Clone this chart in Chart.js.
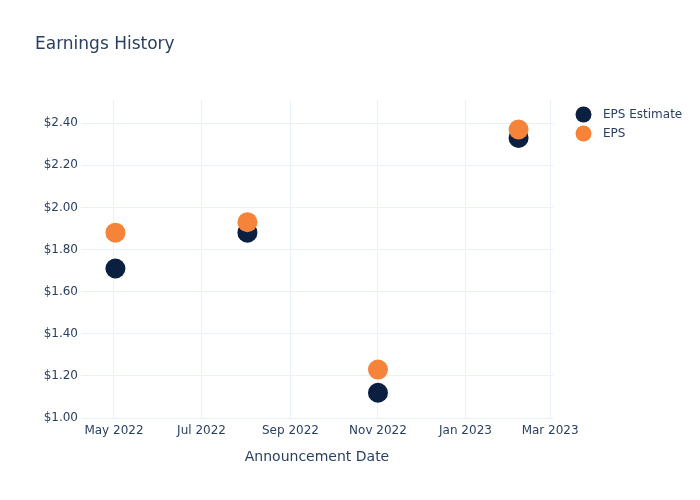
<!DOCTYPE html>
<html><head><meta charset="utf-8">
<script src="https://cdn.jsdelivr.net/npm/chart.js@4/dist/chart.umd.min.js"></script>
<style>html,body{margin:0;padding:0;background:#fff}#wrap{width:700px;height:500px}</style>
</head><body><div id="wrap"><canvas id="c" width="700" height="500"></canvas></div>
<script>
const announcementDates = ['2022-05-02', '2022-08-02', '2022-11-01', '2023-02-07'];
const epsEstimate = [1.71, 1.88, 1.12, 2.33];
const epsActual = [1.88, 1.93, 1.23, 2.37];
const seriesNames = ['EPS Estimate', 'EPS'];
const xTickDates = ['2022-05-01', '2022-07-01', '2022-09-01', '2022-11-01', '2023-01-01', '2023-03-01'];
const xTickLabels = ['May 2022', 'Jul 2022', 'Sep 2022', 'Nov 2022', 'Jan 2023', 'Mar 2023'];
const yTickValues = [1.0, 1.2, 1.4, 1.6, 1.8, 2.0, 2.2, 2.4];
const yTickLabels = ['$1.00', '$1.20', '$1.40', '$1.60', '$1.80', '$2.00', '$2.20', '$2.40'];

const ts = d => Date.parse(d + 'T00:00:00Z');
const FONT = '"DejaVu Sans", Verdana, sans-serif';
const TXT = '#2a3f5f';
const GRID = '#ebf0f8';
const NAVY = '#0b1f40';
const ORANGE = '#f6833a';

const overlay = {
  id: 'overlay',
  afterDraw(chart) {
    const ctx = chart.ctx;
    const a = chart.chartArea;
    ctx.save();
    ctx.fillStyle = TXT;
    ctx.textBaseline = 'middle';
    ctx.textAlign = 'left';
    ctx.font = '17px ' + FONT;
    ctx.fillText('Earnings History', 35, 45);
    ctx.font = '14px ' + FONT;
    ctx.textAlign = 'center';
    ctx.fillText('Announcement Date', (a.left + a.right) / 2, 457);
    const cols = [NAVY, ORANGE];
    ctx.font = '12px ' + FONT;
    ctx.textAlign = 'left';
    seriesNames.forEach((n, i) => {
      const y = 114.5 + i * 19;
      ctx.beginPath();
      ctx.arc(583.5, y, 8, 0, Math.PI * 2);
      ctx.fillStyle = cols[i];
      ctx.fill();
      ctx.fillStyle = TXT;
      ctx.fillText(n, 603, y);
    });
    ctx.restore();
  }
};

new Chart(document.getElementById('c'), {
  type: 'scatter',
  data: {
    datasets: [
      { label: seriesNames[0], data: announcementDates.map((d, i) => ({ x: ts(d), y: epsEstimate[i] })),
        backgroundColor: NAVY, borderWidth: 0, pointRadius: 10, pointHoverRadius: 10, order: 2 },
      { label: seriesNames[1], data: announcementDates.map((d, i) => ({ x: ts(d), y: epsActual[i] })),
        backgroundColor: ORANGE, borderWidth: 0, pointRadius: 10, pointHoverRadius: 10, order: 1 }
    ]
  },
  options: {
    responsive: false,
    animation: false,
    devicePixelRatio: 1,
    layout: { padding: { top: 100, right: 147, left: 0, bottom: 0 } },
    plugins: { legend: { display: false }, tooltip: { enabled: false }, title: { display: false } },
    scales: {
      x: {
        type: 'linear',
        min: ts('2022-04-08'),
        max: ts('2023-03-03'),
        afterBuildTicks: s => { s.ticks = xTickDates.map(d => ({ value: ts(d) })); },
        afterFit: s => { s.height = 82; },
        grid: { color: GRID, lineWidth: 1, drawTicks: false },
        border: { display: false },
        ticks: {
          autoSkip: false, maxRotation: 0, padding: 6, color: TXT,
          font: { family: FONT, size: 12 },
          callback: (v, i) => xTickLabels[i]
        }
      },
      y: {
        min: 1.0,
        max: 2.51,
        afterBuildTicks: s => { s.ticks = yTickValues.map(v => ({ value: v })); },
        afterFit: s => { s.width = 81; },
        grid: { color: GRID, lineWidth: 1, drawTicks: false },
        border: { display: false },
        ticks: {
          padding: 3, color: TXT,
          font: { family: FONT, size: 12 },
          callback: (v, i) => yTickLabels[i]
        }
      }
    }
  },
  plugins: [overlay]
});
</script></body></html>
